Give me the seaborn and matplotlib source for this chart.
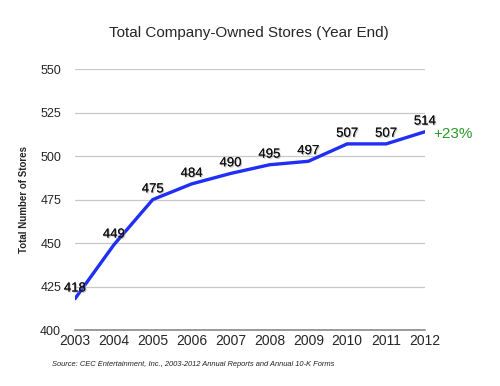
import matplotlib
matplotlib.use("Agg")
import matplotlib.pyplot as plt
import matplotlib.patheffects as pe
import seaborn as sns
import pandas as pd

years = [2003, 2004, 2005, 2006, 2007, 2008, 2009, 2010, 2011, 2012]
stores = [418, 449, 475, 484, 490, 495, 497, 507, 507, 514]
y_ticks = [400, 425, 450, 475, 500, 525, 550]

df = pd.DataFrame({"Year": years, "Stores": stores})

sns.set_style("white")
plt.rcParams["font.family"] = ["Liberation Sans", "DejaVu Sans"]

fig = plt.figure(figsize=(5, 3.86), dpi=100)
ax = fig.add_axes([0.15, 0.145, 0.70, 0.676])

sns.lineplot(data=df, x="Year", y="Stores", ax=ax, color="#1f2ff5", linewidth=2.4)

ax.set_xlim(2003, 2012)
ax.set_ylim(400, 550)
ax.set_yticks(y_ticks)
ax.set_xticks(years)
ax.set_xticklabels([str(y) for y in years], fontsize=10)
ax.tick_params(axis="y", labelsize=9, length=0, pad=10)
ax.tick_params(axis="x", length=0, pad=3)
ax.yaxis.grid(True, color="#c8c8c8", linewidth=0.9)
ax.set_axisbelow(True)
for s in ["top", "right", "left"]:
    ax.spines[s].set_visible(False)
ax.spines["bottom"].set_color("#8a8a8a")
ax.spines["bottom"].set_linewidth(1.2)

ax.set_xlabel("")
ax.set_ylabel("Total Number of Stores", fontsize=7, fontweight="bold", labelpad=8)

shadow = [pe.withSimplePatchShadow(offset=(0.8, -0.8), shadow_rgbFace="#999999", alpha=0.6), pe.Normal()]
for x, y in zip(years, stores):
    ax.annotate(str(y), (x, y), xytext=(0, 3), textcoords="offset points",
                ha="center", va="bottom", fontsize=9.5, color="#111111",
                path_effects=shadow, annotation_clip=False)

ax.annotate("+23%", (years[-1], stores[-1]), xytext=(6, -2), textcoords="offset points",
            ha="left", va="center", fontsize=11, color="#2a9a2a", annotation_clip=False)

fig.text(0.497, 0.915, "Total Company-Owned Stores (Year End)", ha="center", va="center", fontsize=11)
fig.text(0.104, 0.055, "Source: CEC Entertainment, Inc., 2003-2012 Annual Reports and Annual 10-K Forms",
         ha="left", va="center", fontsize=5.4, style="italic", color="#222222")

fig.savefig("out.png", dpi=100)
